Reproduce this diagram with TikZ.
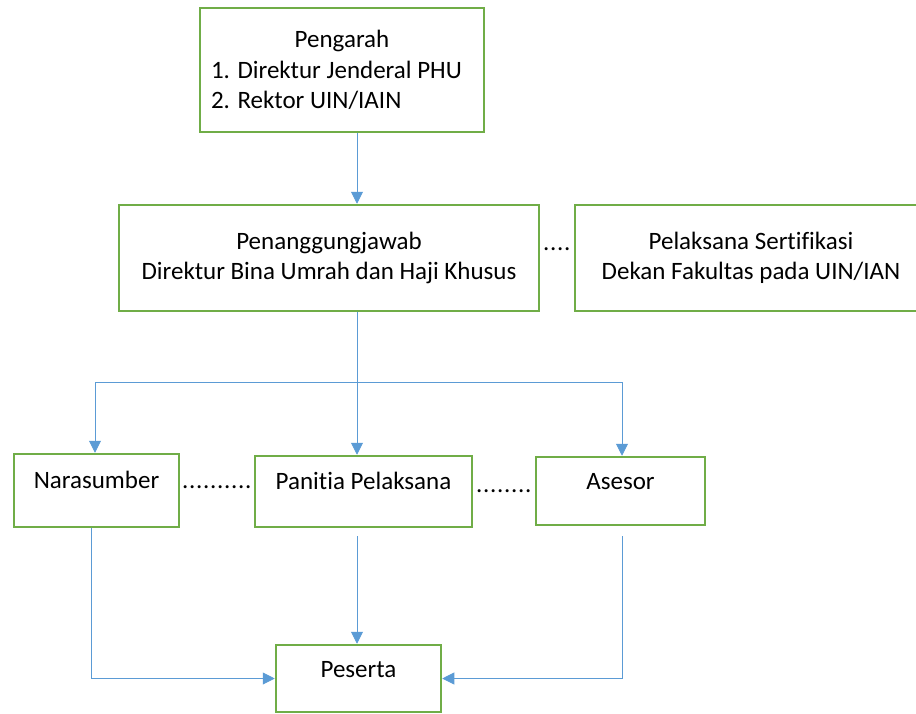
\documentclass[tikz,border=0pt]{standalone}
\usepackage{fontspec}
\setmainfont{Carlito}[Ligatures=NoCommon]
\newfontfamily\dotfont{Carlito}[LetterSpace=2.8]
\usetikzlibrary{arrows.meta,calc}
\definecolor{boxgreen}{HTML}{70AD47}
\definecolor{linkblue}{HTML}{5B9BD5}
\begin{document}
\begin{tikzpicture}[x=1pt,y=-1pt,
  every node/.style={font=\fontsize{25}{30.5}\selectfont, text=black},
  box/.style={draw=boxgreen, line width=2.5pt, inner sep=0pt},
  conn/.style={draw=linkblue, line width=0.9pt, -{Triangle[width=12pt,length=12pt]}},
  dotlabel/.style={inner sep=0pt, anchor=base west, font=\fontsize{25}{30.5}\dotfont}]
\useasboundingbox (0,0) rectangle (916,713);

% boxes
\node[box, minimum width=284pt, minimum height=124pt]
  (pengarah) at (342,70) {\parbox{262pt}{{\centering Pengarah\par}\raggedright 1. Direktur Jenderal PHU\par 2. Rektor UIN/IAIN}};
\node[box, minimum width=420pt, minimum height=106pt, align=center]
  (pj) at (329,258) {Penanggungjawab\\Direktur Bina Umrah dan Haji Khusus};
\node[box, minimum width=352pt, minimum height=106pt, align=center]
  (pel) at (751,258) {Pelaksana Sertifikasi\\Dekan Fakultas pada UIN/IAN};
\node[box, minimum width=165pt, text height=34pt, text depth=39pt]
  (nara) at (96.5,490.5) {Narasumber};
\node[box, minimum width=217pt, text height=33pt, text depth=38pt]
  (panitia) at (363.5,491.5) {Panitia Pelaksana};
\node[box, minimum width=169pt, text height=32pt, text depth=36pt]
  (asesor) at (620.5,491) {Asesor};
\node[box, minimum width=165pt, text height=32pt, text depth=35pt]
  (peserta) at (358.5,678.5) {Peserta};

% dotted leaders
\node[dotlabel] (d1) at (543,250) {....};
\node[dotlabel] (d2) at (182,488) {..........};
\node[dotlabel] (d3) at (476,492) {........};

% guide coordinates
\coordinate (cx) at (357,0);
\coordinate (nx) at (95,0);
\coordinate (nbx) at (91,0);
\coordinate (ax) at (622,0);
\coordinate (branch) at (357,382);

% connectors
\draw[conn] (pengarah.south -| cx) -- (pj.north -| cx);
\draw[conn] (pj.south -| cx) -- (panitia.north -| cx);
\draw[conn] (branch) -- (branch -| nx) -- (nara.north -| nx);
\draw[conn] (branch) -- (branch -| ax) -- (asesor.north -| ax);
\draw[conn] ($(panitia.south -| cx)+(0,8)$) -- (peserta.north -| cx);
\draw[conn] (nara.south -| nbx) |- (peserta.west);
\draw[conn] ($(asesor.south -| ax)+(0,10)$) |- (peserta.east);
\end{tikzpicture}
\end{document}
